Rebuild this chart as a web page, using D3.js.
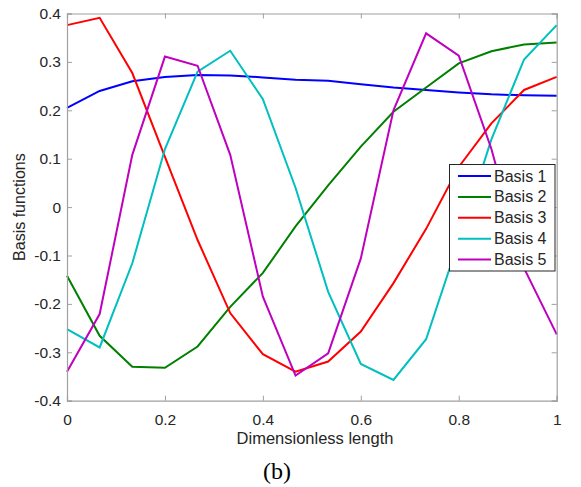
<!DOCTYPE html>
<html><head><meta charset="utf-8">
<script src="https://cdn.jsdelivr.net/npm/d3@7"></script>
<style>body{margin:0;background:#fff}svg{display:block}</style>
</head><body>
<svg id="c" width="581" height="487"></svg>
<script>
const xValues = d3.range(16).map(k => k / 15);
const seriesNames = ["Basis 1", "Basis 2", "Basis 3", "Basis 4", "Basis 5"];
const seriesColors = ["#0000ff", "#008000", "#ff0000", "#00bfbf", "#bf00bf"];
const basis1 = [0.205, 0.240, 0.260, 0.269, 0.273, 0.272, 0.268, 0.263, 0.261, 0.254, 0.247, 0.242, 0.237, 0.233, 0.231, 0.230];
const basis2 = [-0.142, -0.266, -0.330, -0.332, -0.288, -0.206, -0.136, -0.040, 0.045, 0.125, 0.197, 0.247, 0.297, 0.322, 0.336, 0.340];
const basis3 = [0.376, 0.391, 0.277, 0.104, -0.068, -0.219, -0.304, -0.340, -0.319, -0.257, -0.157, -0.045, 0.083, 0.173, 0.242, 0.269];
const basis4 = [-0.252, -0.290, -0.116, 0.120, 0.280, 0.323, 0.223, 0.040, -0.175, -0.324, -0.357, -0.273, -0.070, 0.140, 0.305, 0.376];
const basis5 = [-0.340, -0.221, 0.108, 0.311, 0.292, 0.108, -0.185, -0.348, -0.302, -0.106, 0.200, 0.359, 0.313, 0.120, -0.126, -0.263];
const seriesValues = [basis1, basis2, basis3, basis4, basis5];
const xTicks = [0, 0.2, 0.4, 0.6, 0.8, 1];
const yTicks = [-0.4, -0.3, -0.2, -0.1, 0, 0.1, 0.2, 0.3, 0.4];
const xTickLabels = ["0", "0.2", "0.4", "0.6", "0.8", "1"];
const yTickLabels = ["-0.4", "-0.3", "-0.2", "-0.1", "0", "0.1", "0.2", "0.3", "0.4"];

const L = 67, R = 556.7, T = 13.5, B = 400.7;
const svg = d3.select("#c");
const x = d3.scaleLinear().domain([0, 1]).range([L, R]);
const y = d3.scaleLinear().domain([-0.4, 0.4]).range([B, T]);
const axisColor = "#262626";
const font = "'Liberation Sans', Arial, sans-serif";

// lines
const line = d3.line().x((d, i) => x(xValues[i])).y(d => y(d));
const plot = svg.append("g");
seriesValues.forEach((vals, s) => {
  plot.append("path").attr("d", line(vals)).attr("fill", "none")
    .attr("stroke", seriesColors[s]).attr("stroke-width", 2).attr("stroke-linejoin", "miter");
});

// axes
const gx = svg.append("g").attr("transform", `translate(0,${B})`)
  .call(d3.axisBottom(x).tickValues(xTicks).tickSize(-5).tickPadding(13)
    .tickFormat((d, i) => xTickLabels[i]));
const gxt = svg.append("g").attr("transform", `translate(0,${T})`)
  .call(d3.axisTop(x).tickValues(xTicks).tickSize(-5).tickFormat(""));
const gy = svg.append("g").attr("transform", `translate(${L},0)`)
  .call(d3.axisLeft(y).tickValues(yTicks).tickSize(-5).tickPadding(6)
    .tickFormat((d, i) => yTickLabels[i]));
const gyr = svg.append("g").attr("transform", `translate(${R},0)`)
  .call(d3.axisRight(y).tickValues(yTicks).tickSize(-5).tickFormat(""));
[gx, gxt, gy, gyr].forEach(g => {
  g.selectAll("path.domain").attr("stroke", "#a0a0a0").attr("stroke-width", 1.2);
  g.selectAll(".tick line").attr("stroke", "#a0a0a0");
  g.selectAll("text").attr("fill", axisColor).style("font-family", font).style("font-size", "15.5px");
});

// axis labels
svg.append("text").attr("x", 315).attr("y", 444).attr("text-anchor", "middle")
  .attr("fill", axisColor).style("font-family", font).style("font-size", "16.5px").text("Dimensionless length");
svg.append("text").attr("transform", `translate(25,${(T + B) / 2}) rotate(-90)`).attr("text-anchor", "middle")
  .attr("fill", axisColor).style("font-family", font).style("font-size", "16px").text("Basis functions");
svg.append("text").attr("x", 277).attr("y", 479).attr("text-anchor", "middle")
  .attr("fill", "#000").style("font-family", "'Liberation Serif', 'Times New Roman', serif").style("font-size", "24px").text("(b)");

// legend
const lg = svg.append("g");
lg.append("rect").attr("x", 449.5).attr("y", 164.5).attr("width", 105.5).attr("height", 106.5)
  .attr("fill", "#fff").attr("stroke", "#262626").attr("stroke-width", 1);
seriesNames.forEach((n, i) => {
  const yy = 176 + i * 20.9;
  lg.append("line").attr("x1", 458).attr("x2", 491).attr("y1", yy).attr("y2", yy)
    .attr("stroke", seriesColors[i]).attr("stroke-width", 2);
  lg.append("text").attr("x", 494).attr("y", yy + 5.5).attr("fill", axisColor)
    .style("font-family", font).style("font-size", "16px").text(n);
});
</script>
</body></html>
